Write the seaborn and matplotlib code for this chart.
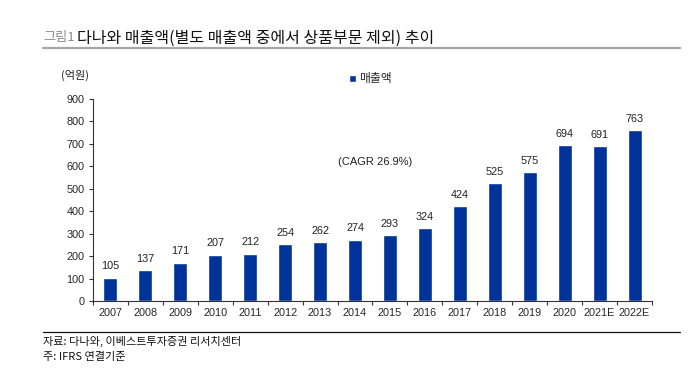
import matplotlib
matplotlib.use('Agg')
import matplotlib.pyplot as plt
import seaborn as sns
import pandas as pd
from matplotlib.lines import Line2D
from matplotlib.patches import Patch

years = ['2007', '2008', '2009', '2010', '2011', '2012', '2013', '2014', '2015',
         '2016', '2017', '2018', '2019', '2020', '2021E', '2022E']
sales = [105, 137, 171, 207, 212, 254, 262, 274, 293, 324, 424, 525, 575, 694, 691, 763]
y_ticks = [0, 100, 200, 300, 400, 500, 600, 700, 800, 900]

bar_color = '#003399'

sns.set_theme(style='white')
plt.rcParams['font.family'] = ['Liberation Sans', 'Noto Sans CJK KR', 'DejaVu Sans']
kr = ['Noto Sans CJK KR', 'DejaVu Sans']

df = pd.DataFrame({'year': years, 'sales': sales})

fig = plt.figure(figsize=(6.96, 3.75), dpi=100)
ax = fig.add_axes([0.1336, 0.197, 0.8032, 0.539])

sns.barplot(data=df, x='year', y='sales', color=bar_color, width=0.4,
            saturation=1, ax=ax)

for i, v in enumerate(sales):
    ax.annotate(str(v), (i, v), xytext=(0, 4.5), textcoords='offset points',
                ha='center', va='bottom', fontsize=7.8, color='#222222')

ax.set_xlim(-0.5, len(years) - 0.5)
ax.set_ylim(0, 900)
ax.set_yticks(y_ticks)
ax.set_xlabel('')
ax.set_ylabel('')
for s in ['top', 'right']:
    ax.spines[s].set_visible(False)
for s in ['left', 'bottom']:
    ax.spines[s].set_color('#333333')
    ax.spines[s].set_linewidth(0.8)

ax.tick_params(axis='y', which='major', direction='out', length=3, width=0.8,
               color='#333333', labelsize=7.8, pad=3, left=True)
ax.tick_params(axis='x', which='major', length=0, labelsize=7.8, pad=5)
ax.set_xticks([i + 0.5 for i in range(-1, len(years))], minor=True)
ax.tick_params(axis='x', which='minor', direction='out', length=3, width=0.8,
               color='#333333', bottom=True)

# legend
handles = [Patch(facecolor=bar_color, label='매출액')]
ax.legend(handles=handles, loc='center', bbox_to_anchor=(0.497, 1.10),
          frameon=False, handlelength=0.55, handleheight=0.55,
          handletextpad=0.3, prop={'family': kr, 'size': 8.5})

ax.text(0.505, 0.69, '(CAGR 26.9%)', transform=ax.transAxes, ha='center',
        va='center', fontsize=8, color='#222222')

fig.text(75 / 696, 1 - 75 / 375, '(억원)', ha='center', va='center',
         fontsize=8, family=kr, color='#222222')

# title
fig.text(43 / 696, 1 - 38 / 375, '그림1', ha='left', va='center',
         fontsize=9.5, color='#8c8c8c', family=kr)
fig.text(77 / 696, 1 - 38 / 375, '다나와 매출액(별도 매출액 중에서 상품부문 제외) 추이',
         ha='left', va='center', fontsize=11.5, color='#111111', family=kr)
fig.add_artist(Line2D([43 / 696, 680 / 696], [1 - 48 / 375, 1 - 48 / 375],
                      color='#a6a6a6', lw=1.6))

# footer
fig.add_artist(Line2D([43 / 696, 680 / 696], [1 - 332 / 375, 1 - 332 / 375],
                      color='#111111', lw=0.9))
fig.text(43 / 696, 1 - 341 / 375, '자료: 다나와, 이베스트투자증권 리서치센터',
         ha='left', va='center', fontsize=8, family=kr, color='#111111')
fig.text(43 / 696, 1 - 357 / 375, '주: IFRS 연결기준',
         ha='left', va='center', fontsize=8, family=kr, color='#111111')

fig.savefig('out.png', dpi=100)
